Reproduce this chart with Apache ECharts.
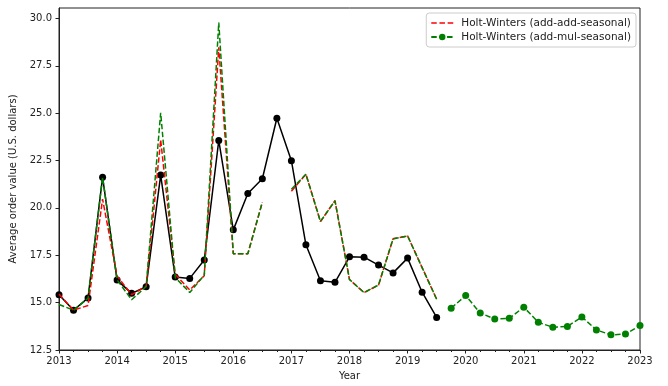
<!DOCTYPE html>
<html>
<head>
<meta charset="utf-8">
<script src="https://cdn.jsdelivr.net/npm/echarts@6/dist/echarts.min.js"></script>
<style>
html,body{margin:0;padding:0;background:#fff;}
#chart{width:668px;height:386px;}
</style>
</head>
<body>
<div id="chart"></div>
<script>
// ---- data (quarterly) ----
const actualStart = '2013-Q1';
const actualValues = [15.42, 14.60, 15.25, 21.62, 16.19, 15.49, 15.84, 21.73, 16.35, 16.28, 17.25, 23.56,
  18.84, 20.76, 21.54, 24.73, 22.49, 18.05, 16.15, 16.07, 17.42, 17.40, 16.98, 16.57, 17.35, 15.55, 14.22];

const fittedStart = '2013-Q1';
const addAddValues = [15.45, 14.60, 14.85, 20.46, 16.40, 15.42, 15.85, 23.59, 16.50, 15.67, 16.42, 28.47,
  17.58, 17.58, 20.30, null, 20.88, 21.78, 19.28, 20.38, 16.22, 15.53, 15.93, 18.37, 18.52, 16.85, 15.18];
const addMulValues = [14.90, 14.60, 15.23, 21.62, 16.20, 15.15, 15.85, 25.02, 16.33, 15.53, 16.45, 29.78,
  17.58, 17.58, 20.30, null, 20.98, 21.78, 19.28, 20.38, 16.22, 15.53, 15.93, 18.37, 18.52, 16.85, 15.18];

const forecastStart = '2019-Q4';
const forecastValues = [14.71, 15.37, 14.45, 14.14, 14.17, 14.76, 13.96, 13.70, 13.74, 14.24, 13.56, 13.30, 13.34, 13.79];

const xTickYears = [2013, 2014, 2015, 2016, 2017, 2018, 2019, 2020, 2021, 2022, 2023];
const yTickValues = [12.5, 15.0, 17.5, 20.0, 22.5, 25.0, 27.5, 30.0];

const legendNames = ['Holt-Winters (add-add-seasonal)', 'Holt-Winters (add-mul-seasonal)'];

// ---- helpers ----
function quarterToYear(label, offset) {
  const parts = label.split('-Q');
  const y = parseInt(parts[0], 10);
  const q = parseInt(parts[1], 10) - 1 + offset;
  return y + q / 4;
}
function toPairs(start, values) {
  return values.map((v, i) => [quarterToYear(start, i), v === null ? '-' : v]);
}

const FONT = 'DejaVu Sans';
const TXT = '#222';
const chart = echarts.init(document.getElementById('chart'), null, {renderer: 'canvas'});

const dash = [5.5, 2.4];
// dashed-line legend glyph (three dashes)
const dashIcon = 'path://M0,0h5.5v1.6h-5.5z M8.2,0h5.5v1.6h-5.5z M16.4,0h5.6v1.6h-5.6z';

chart.setOption({
  animation: false,
  backgroundColor: '#fff',
  textStyle: {fontFamily: FONT},
  grid: {left: 59, right: 28, top: 8, bottom: 32, show: true, borderColor: '#222', borderWidth: 1, backgroundColor: 'transparent'},
  legend: {
    data: [
      {name: legendNames[0], icon: dashIcon, symbolKeepAspect: true, itemStyle: {color: '#ff0000'}},
      {name: legendNames[1]}
    ],
    orient: 'vertical',
    right: 32,
    top: 13,
    itemWidth: 22,
    itemHeight: 8,
    itemGap: 2,
    padding: [4, 5, 4, 4],
    borderColor: '#cccccc',
    borderWidth: 1,
    borderRadius: 3,
    backgroundColor: 'rgba(255,255,255,0.8)',
    textStyle: {fontFamily: FONT, fontSize: 10.5, lineHeight: 12, color: TXT, padding: [0, 0, 0, 3]},
    selectedMode: false
  },
  xAxis: {
    type: 'value',
    min: xTickYears[0],
    max: xTickYears[xTickYears.length - 1],
    interval: 1,
    name: 'Year',
    nameLocation: 'middle',
    nameGap: 21,
    nameTextStyle: {fontFamily: FONT, fontSize: 10, color: TXT},
    axisLine: {show: true, lineStyle: {color: '#222', width: 1}},
    axisTick: {show: true, length: 3.5, lineStyle: {color: '#222'}},
    minorTick: {show: true, splitNumber: 4, length: 2, lineStyle: {color: '#222'}},
    axisLabel: {fontFamily: FONT, fontSize: 10, color: TXT, margin: 6,
      formatter: v => (xTickYears.indexOf(Math.round(v)) >= 0 && Math.abs(v - Math.round(v)) < 1e-6) ? String(Math.round(v)) : ''},
    splitLine: {show: false}
  },
  yAxis: {
    type: 'value',
    min: yTickValues[0],
    max: 30.55,
    interval: 2.5,
    name: 'Average order value (U.S. dollars)',
    nameLocation: 'middle',
    nameGap: 31,
    nameRotate: 90,
    nameTextStyle: {fontFamily: FONT, fontSize: 10, color: TXT},
    axisLine: {show: true, lineStyle: {color: '#222', width: 1}},
    axisTick: {show: true, length: 3.5, lineStyle: {color: '#222'}},
    axisLabel: {fontFamily: FONT, fontSize: 10, color: TXT, margin: 7, showMaxLabel: false,
      formatter: v => yTickValues.some(t => Math.abs(t - v) < 1e-6) ? v.toFixed(1) : ''},
    splitLine: {show: false}
  },
  series: [
    {
      name: 'Actual',
      type: 'line',
      data: toPairs(actualStart, actualValues),
      symbol: 'circle',
      symbolSize: 7,
      showSymbol: true,
      itemStyle: {color: '#000'},
      lineStyle: {color: '#000', width: 1.5},
      z: 2
    },
    {
      name: legendNames[0],
      type: 'line',
      data: toPairs(fittedStart, addAddValues),
      symbol: 'none',
      connectNulls: false,
      itemStyle: {color: '#ff0000'},
      lineStyle: {color: '#ff0000', width: 1.5, type: dash},
      z: 3
    },
    {
      name: 'fitted-add-mul',
      type: 'line',
      data: toPairs(fittedStart, addMulValues),
      symbol: 'none',
      connectNulls: false,
      itemStyle: {color: '#008000'},
      lineStyle: {color: '#008000', width: 1.5, type: dash},
      z: 4
    },
    {
      name: legendNames[1],
      type: 'line',
      data: toPairs(forecastStart, forecastValues),
      symbol: 'circle',
      symbolSize: 7,
      itemStyle: {color: '#008000'},
      lineStyle: {color: '#008000', width: 1.5, type: dash},
      z: 5
    }
  ]
});
</script>
</body>
</html>
